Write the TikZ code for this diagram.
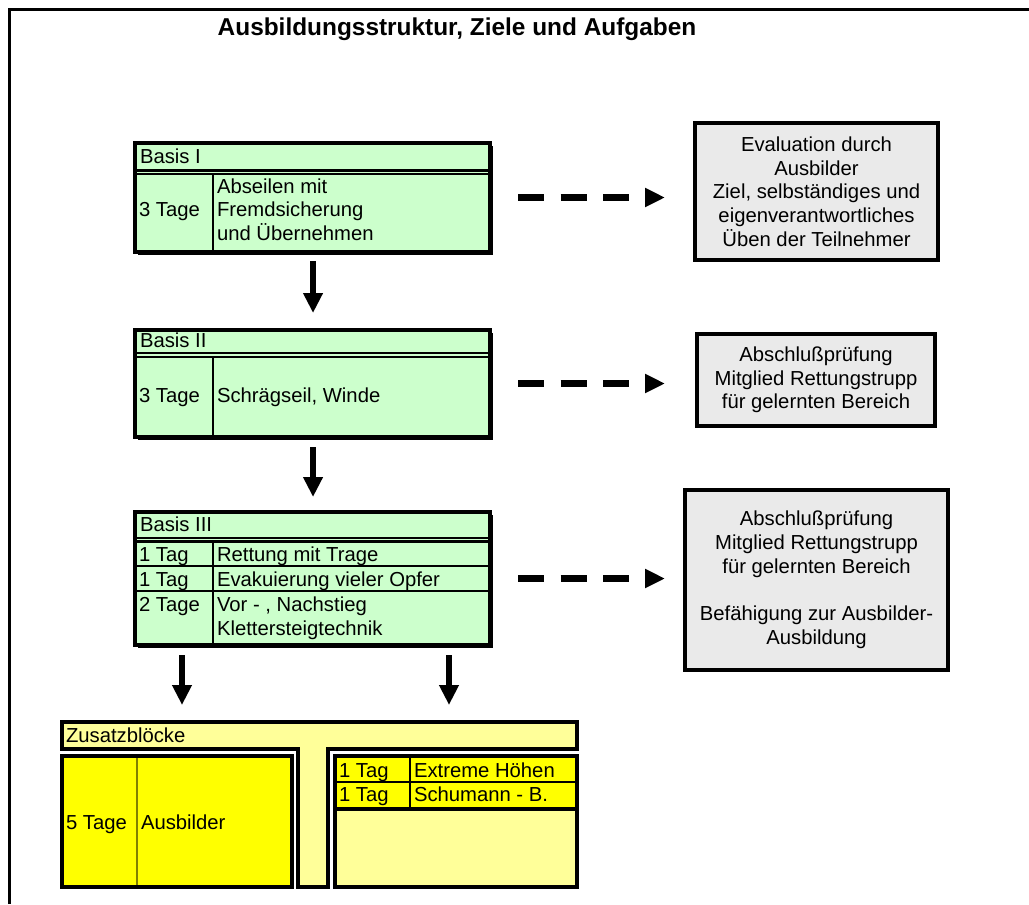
\documentclass[tikz,border=0pt]{standalone}
\usepackage{fontspec}
\setmainfont{Liberation Sans}
\usetikzlibrary{arrows.meta,fit}
\definecolor{grn}{HTML}{CCFFCC}
\definecolor{gry}{HTML}{EAEAEA}
\definecolor{ylw}{HTML}{FFFF00}
\definecolor{lylw}{HTML}{FFFF99}
\definecolor{oliv}{HTML}{808000}
\begin{document}
\begin{tikzpicture}[x=0.75pt,y=-0.75pt,
  txt/.style={font=\fontsize{15.2}{17.8}\selectfont, inner sep=0, outer sep=0, anchor=base west},
  blk/.style={inner sep=0, outer sep=0, draw, line width=3pt, fill=grn},
  rbox/.style={inner sep=0, outer sep=0, draw, line width=3pt, fill=gry, align=center,
     font=\fontsize{15.2}{17.8}\selectfont},
  hsep/.style={line width=1.7pt},
  vsep/.style={line width=1.1pt},
  downarr/.style={line width=4.5pt, -{Triangle[length=15pt,width=14pt]}},
  dasharr/.style={line width=4.9pt, dash pattern=on 19.5pt off 12.4pt, -{Triangle[length=15pt,width=13.5pt]}},
]
\useasboundingbox (0,0) rectangle (1029,904);
% outer frame
\draw[line width=2.25pt] (9.5,904) -- (9.5,9.5) -- (1029,9.5);
% title
\node[font=\fontsize{18.3}{22}\selectfont\bfseries, inner sep=0, anchor=base] (title) at (457,35) {Ausbildungsstruktur, Ziele und Aufgaben};

% ---------- Basis I ----------
\fill (138,146) rectangle (493,255);
\node[blk, fit={(135,143)(490,252)}] (b1) {};
\draw[hsep] (135,170.5) -- (490,170.5);
\draw[hsep] (135,174.2) -- (490,174.2);
\draw[vsep] (213,174) -- (213,252);
\node[txt] (b1h) at (140,163) {Basis I};
\node[txt] (b1d) at (139,216.5) {3 Tage};
\node[txt] (b1a) at (217,193) {Abseilen mit};
\node[txt] (b1b) at (217,216.5) {Fremdsicherung};
\node[txt] (b1c) at (217,240) {und Übernehmen};

% ---------- Basis II ----------
\fill (138,333) rectangle (493,440);
\node[blk, fit={(135,330)(490,437)}] (b2) {};
\draw[hsep] (135,353.3) -- (490,353.3);
\draw[hsep] (135,357.2) -- (490,357.2);
\draw[vsep] (213,357) -- (213,437);
\node[txt] (b2h) at (140,347.5) {Basis II};
\node[txt] (b2d) at (139,402) {3 Tage};
\node[txt] (b2a) at (217,402) {Schrägseil, Winde};

% ---------- Basis III ----------
\fill (138,515) rectangle (493,648);
\node[blk, fit={(135,512)(490,645)}] (b3) {};
\draw[hsep] (135,537.8) -- (490,537.8);
\draw[hsep] (135,541.5) -- (490,541.5);
\draw[hsep] (135,565.7) -- (490,565.7);
\draw[hsep] (135,591) -- (490,591);
\draw[vsep] (213,541) -- (213,645);
\node[txt] (b3h) at (140,531) {Basis III};
\node[txt] (b3d1) at (139,561) {1 Tag};
\node[txt] (b3a) at (217,561) {Rettung mit Trage};
\node[txt] (b3d2) at (139,586) {1 Tag};
\node[txt] (b3b) at (217,586) {Evakuierung vieler Opfer};
\node[txt] (b3d3) at (139,611) {2 Tage};
\node[txt] (b3c) at (217,611) {Vor - , Nachstieg};
\node[txt] (b3e) at (217,635) {Klettersteigtechnik};

% ---------- right boxes ----------
\node[rbox, minimum width=182.25pt, minimum height=102.75pt] (r1) at (816.5,191.5)
  {Evaluation durch\\Ausbilder\\Ziel, selbständiges und\\eigenverantwortliches\\Üben der Teilnehmer};
\node[rbox, minimum width=178.5pt, minimum height=69pt] (r2) at (816,380)
  {Abschlußprüfung\\Mitglied Rettungstrupp\\für gelernten Bereich};
\node[rbox, minimum width=197.25pt, minimum height=135pt] (r3) at (816.5,580)
  {Abschlußprüfung\\Mitglied Rettungstrupp\\für gelernten Bereich\\[17.8pt]Befähigung zur Ausbilder-\\Ausbildung};

% ---------- Zusatzblöcke ----------
\node[inner sep=0, outer sep=0, fit={(62,722)(577,749)}] (zh) {};
\draw[line width=3pt, fill=lylw] (62,722) -- (577,722) -- (577,749) -- (328,749) -- (328,887)
   -- (298,887) -- (298,749) -- (62,749) -- cycle;
\node[txt] (zht) at (66,742) {Zusatzblöcke};

\node[inner sep=0, outer sep=0, draw, line width=3pt, fill=ylw, fit={(62,756)(292,887)}] (zl) {};
\draw[oliv, line width=0.9pt] (137,758) -- (137,885);
\node[txt] (zl1) at (66,829) {5 Tage};
\node[txt] (zl2) at (141,829) {Ausbilder};

\node[inner sep=0, outer sep=0, fit={(335,756)(577,887)}] (zr) {};
\fill[lylw] (335,756) rectangle (577,887);
\fill[ylw] (335,756) rectangle (577,808);
\draw[line width=0.9pt] (335,782) -- (577,782);
\draw[line width=0.9pt] (410,756) -- (410,808);
\draw[line width=3pt] (335,808.5) -- (577,808.5);
\draw[line width=3pt] (zr.south west) rectangle (zr.north east);
\node[txt] (zr1) at (339,777) {1 Tag};
\node[txt] (zr2) at (414,777) {Extreme Höhen};
\node[txt] (zr3) at (339,801) {1 Tag};
\node[txt] (zr4) at (414,801) {Schumann - B.};

% ---------- arrows ----------
\draw[downarr, shorten <=6.75pt, shorten >=12.75pt] ([xshift=0.4pt]b1.south) -- ([xshift=0.4pt]b1.south |- b2.north);
\draw[downarr, shorten <=7.5pt, shorten >=11.25pt] ([xshift=0.4pt]b2.south) -- ([xshift=0.4pt]b2.south |- b3.north);
\draw[downarr, shorten <=7.5pt, shorten >=12.75pt] ([xshift=-97.875pt]b3.south) -- ([xshift=-97.875pt]b3.south |- zh.north);
\draw[downarr, shorten <=7.5pt, shorten >=12.75pt] ([xshift=102.375pt]b3.south) -- ([xshift=102.375pt]b3.south |- zh.north);

\draw[dasharr, shorten <=21pt, shorten >=22.5pt] (b1.east) -- (b1.east -| r1.west);
\draw[dasharr, shorten <=21pt, shorten >=24pt] (b2.east) -- (b2.east -| r2.west);
\draw[dasharr, shorten <=21pt, shorten >=15pt] (b3.east) -- (b3.east -| r3.west);
\end{tikzpicture}
\end{document}
